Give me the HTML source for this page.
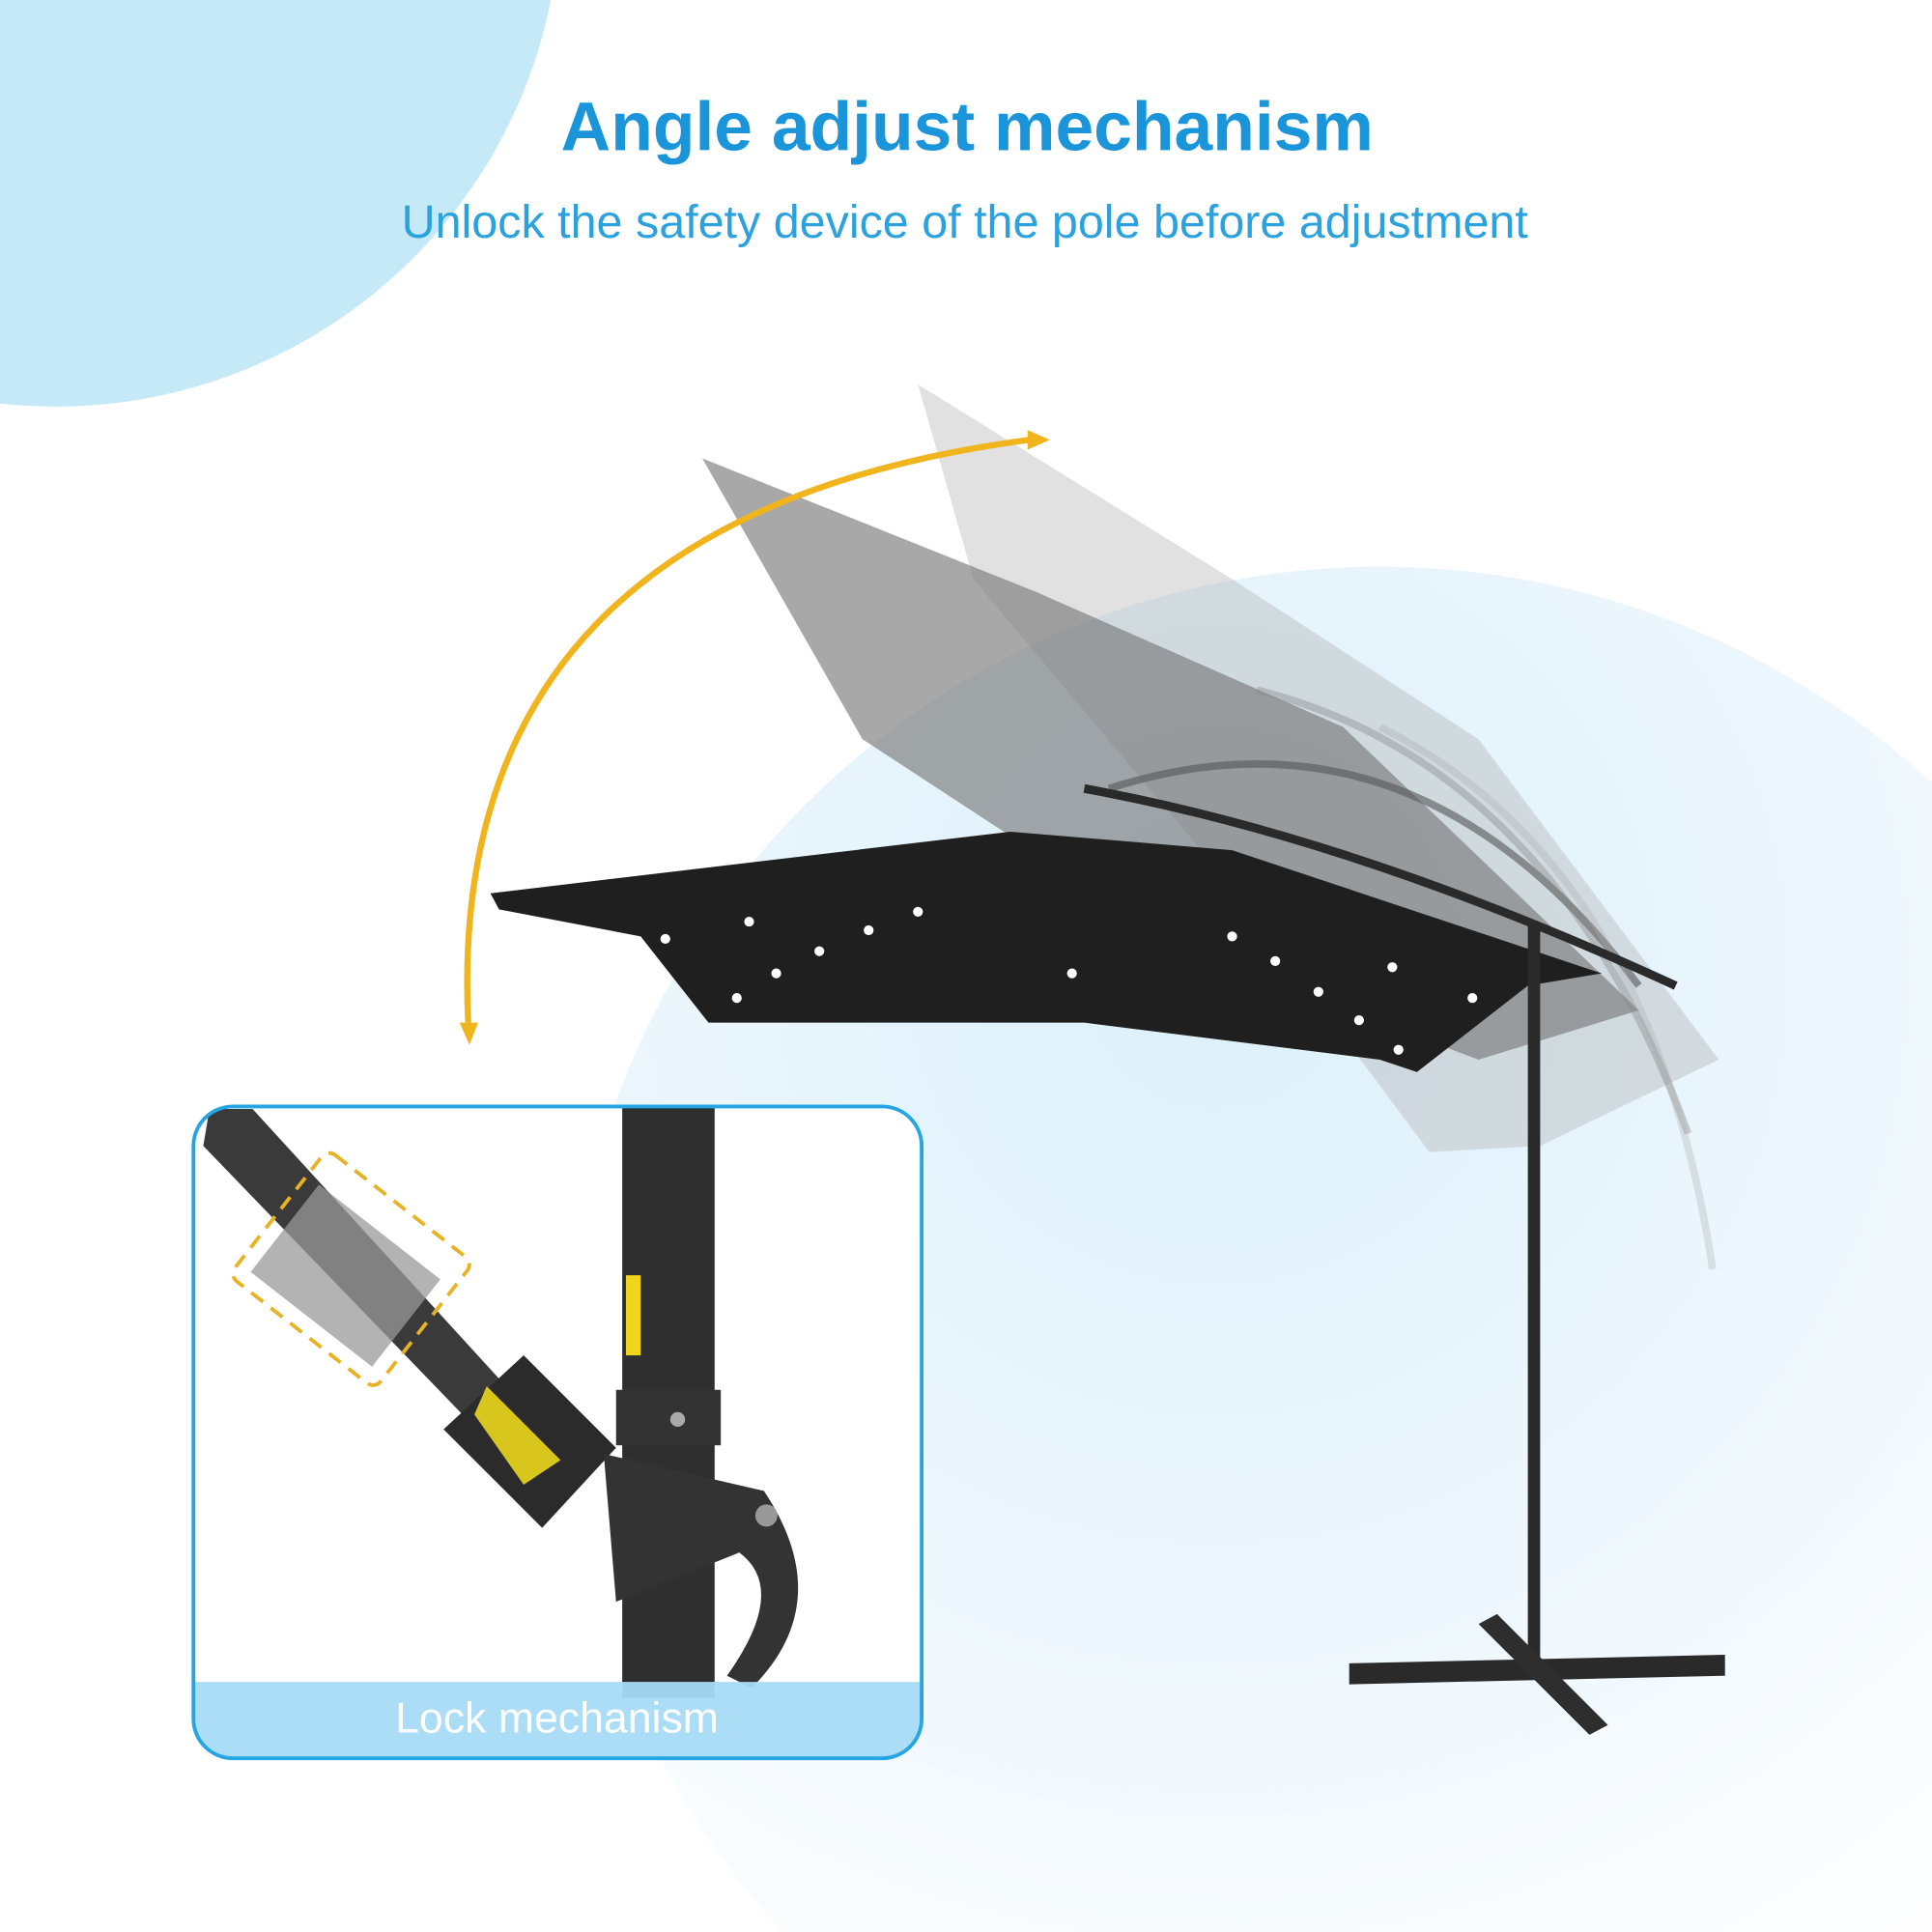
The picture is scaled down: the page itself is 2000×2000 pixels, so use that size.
<!DOCTYPE html>
<html><head><meta charset="utf-8"><style>
html,body{margin:0;padding:0;background:#fff;width:2000px;height:2000px;overflow:hidden;}
svg{display:block;}
</style></head><body>
<svg width="2000" height="2000" viewBox="0 0 1568 1568" xmlns="http://www.w3.org/2000/svg">
<defs>
<radialGradient id="bg2" cx="0.4" cy="0.25" r="0.75">
<stop offset="0" stop-color="#dcf0fa"/><stop offset="0.55" stop-color="#eef7fd"/><stop offset="1" stop-color="#ffffff"/>
</radialGradient>
<clipPath id="box"><rect x="157" y="898" width="591" height="529" rx="32"/></clipPath>
</defs>
<rect width="1568" height="1568" fill="#fff"/>
<circle cx="1120" cy="1120" r="660" fill="url(#bg2)"/>
<circle cx="45" cy="-80" r="410" fill="#c6e9f8"/>
<text x="785" y="122" text-anchor="middle" font-family="Liberation Sans, sans-serif" font-weight="bold" font-size="56" fill="#1b95da">Angle adjust mechanism</text>
<text x="783" y="193" text-anchor="middle" font-family="Liberation Sans, sans-serif" font-size="38" fill="#2ba2dd">Unlock the safety device of the pole before adjustment</text>

<!-- ghost canopies -->
<polygon points="745,312 1000,470 1200,600 1395,860 1250,930 1160,935 1000,720 790,470" fill="#a8a8a8" opacity="0.35"/>
<polygon points="570,372 840,480 1090,590 1330,820 1200,860 960,770 700,600" fill="#7a7a7a" opacity="0.65"/>
<path d="M900,640 Q1150,560 1330,800" stroke="#555" stroke-width="6" fill="none" opacity="0.6"/>
<path d="M1020,560 Q1260,620 1370,920" stroke="#888" stroke-width="6" fill="none" opacity="0.4"/>
<path d="M1120,590 Q1340,700 1390,1030" stroke="#aaa" stroke-width="6" fill="none" opacity="0.3"/>

<!-- main canopy -->
<polygon points="398,725 820,675 1000,690 1300,790 1240,800 1150,870 1120,860 880,830 575,830 520,760 405,738" fill="#1f1f1f"/>
<path d="M880,640 Q1100,680 1360,800" stroke="#2a2a2a" stroke-width="7" fill="none"/>
<g fill="#fff">
<circle cx="540" cy="762" r="4"/><circle cx="608" cy="748" r="4"/><circle cx="665" cy="772" r="4"/><circle cx="705" cy="755" r="4"/><circle cx="745" cy="740" r="4"/><circle cx="630" cy="790" r="4"/><circle cx="598" cy="810" r="4"/><circle cx="870" cy="790" r="4"/><circle cx="1000" cy="760" r="4"/><circle cx="1035" cy="780" r="4"/><circle cx="1070" cy="805" r="4"/><circle cx="1103" cy="828" r="4"/><circle cx="1135" cy="852" r="4"/><circle cx="1130" cy="785" r="4"/><circle cx="1195" cy="810" r="4"/>
</g>
<!-- pole and base -->
<rect x="1240" y="750" width="10" height="600" fill="#2a2a2a"/>
<polygon points="1095,1350 1400,1343 1400,1360 1095,1367" fill="#2a2a2a"/>
<polygon points="1200,1318 1215,1310 1305,1400 1290,1408" fill="#2e2e2e"/>

<!-- orange arc -->
<path d="M380,830 Q360,420 835,357" stroke="#f0b41c" stroke-width="5" fill="none"/>
<polygon points="373,830 388,830 381,848" fill="#f0b41c"/>
<polygon points="834,349 852,357 834,365" fill="#f0b41c"/>

<!-- inset -->
<g clip-path="url(#box)">
<rect x="157" y="898" width="591" height="529" fill="#fff"/>
<polygon points="170,900 205,900 470,1190 440,1215 165,930" fill="#3a3a3a"/>
<rect x="218" y="990" width="125" height="90" fill="#999" opacity="0.75" transform="rotate(38 280 1035)"/>
<rect x="210" y="965" width="150" height="130" fill="none" stroke="#e8b225" stroke-width="3" stroke-dasharray="12 8" rx="8" transform="rotate(38 285 1030)"/>
<polygon points="425,1100 500,1175 440,1240 360,1160" fill="#2b2b2b"/>
<polygon points="395,1125 455,1185 425,1205 385,1148" fill="#d9c61c"/>
<rect x="505" y="898" width="75" height="480" fill="#2f2f2f"/>
<rect x="508" y="1035" width="12" height="65" fill="#f0d51c"/>
<rect x="500" y="1128" width="85" height="45" fill="#333"/>
<circle cx="550" cy="1152" r="6" fill="#aaa"/>
<path d="M490,1180 L620,1210 Q680,1300 610,1370 L590,1360 Q640,1290 600,1260 L500,1300 Z" fill="#333"/>
<circle cx="622" cy="1230" r="9" fill="#999"/>
<rect x="157" y="1365" width="591" height="62" fill="#a6dbf5" opacity="0.95"/>
</g>
<rect x="157" y="898" width="591" height="529" rx="32" fill="none" stroke="#25a5e4" stroke-width="3"/>
<text x="452" y="1406" text-anchor="middle" font-family="Liberation Sans, sans-serif" font-size="35" fill="#fff">Lock mechanism</text>
</svg>
</body></html>
